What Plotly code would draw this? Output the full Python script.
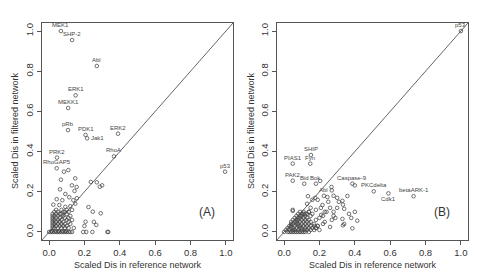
import plotly.graph_objects as go

# ---------------- Panel A data ----------------
A_lab_names = ["MEK1", "SHP-2", "Abl", "ERK1", "MEKK1", "pRb", "PDK1", "Jak1", "ERK2",
               "PRK2", "RhoGAP5", "RhoA", "p53"]
A_lab_x = [0.067, 0.13, 0.27, 0.15, 0.108, 0.107, 0.206, 0.215, 0.39, 0.045, 0.043, 0.367, 0.995]
A_lab_y = [1.0, 0.955, 0.826, 0.68, 0.617, 0.507, 0.483, 0.466, 0.489, 0.37, 0.317, 0.376, 0.30]
A_lab_pos = ["top", "top", "top", "top", "top", "top", "top", "right", "top",
             "top", "top", "top", "top"]

A_x = [0.109, 0.084, 0.148, 0.067, 0.236, 0.27, 0.30, 0.287, 0.129, 0.156, 0.062, 0.144,
       0.092, 0.114, 0.157, 0.043, 0.075, 0.137, 0.024, 0.058, 0.148, 0.092, 0.12, 0.223,
       0.247, 0.292, 0.206, 0.253, 0.267, 0.20, 0.193, 0.21, 0.245, 0.33, 0.335,
       0.0, 0.01, 0.02, 0.03, 0.04, 0.05, 0.06, 0.07, 0.08, 0.09, 0.10, 0.11, 0.12, 0.13,
       0.015, 0.035, 0.055, 0.075, 0.095,
       0.02, 0.03, 0.05, 0.07, 0.09, 0.11, 0.14,
       0.02, 0.04, 0.06, 0.08, 0.10,
       0.02, 0.03, 0.05, 0.07, 0.09, 0.12,
       0.02, 0.04, 0.06, 0.08, 0.11,
       0.02, 0.03, 0.05, 0.07, 0.10, 0.13,
       0.02, 0.04, 0.06, 0.09, 0.11,
       0.02, 0.03, 0.05, 0.08, 0.12,
       0.02, 0.04, 0.06, 0.07, 0.10,
       0.03, 0.05, 0.08, 0.09, 0.11,
       0.04, 0.07, 0.10, 0.13]
A_y = [0.308, 0.30, 0.267, 0.26, 0.249, 0.247, 0.232, 0.225, 0.232, 0.224, 0.212, 0.204,
       0.189, 0.173, 0.168, 0.163, 0.158, 0.158, 0.136, 0.134, 0.141, 0.125, 0.128, 0.124,
       0.101, 0.093, 0.051, 0.05, 0.035, 0.03, 0.0, 0.0, 0.0, 0.0, 0.0,
       0.0, 0.0, 0.0, 0.0, 0.0, 0.0, 0.0, 0.0, 0.0, 0.0, 0.0, 0.0, 0.0, 0.0,
       0.005, 0.005, 0.005, 0.005, 0.005,
       0.02, 0.02, 0.02, 0.02, 0.02, 0.02, 0.02,
       0.03, 0.03, 0.03, 0.03, 0.03,
       0.04, 0.04, 0.04, 0.04, 0.04, 0.04,
       0.05, 0.05, 0.05, 0.05, 0.05,
       0.06, 0.06, 0.06, 0.06, 0.06, 0.06,
       0.07, 0.07, 0.07, 0.07, 0.07,
       0.08, 0.08, 0.08, 0.08, 0.08,
       0.09, 0.09, 0.09, 0.09, 0.09,
       0.10, 0.10, 0.10, 0.10, 0.10,
       0.11, 0.11, 0.11, 0.11]

# ---------------- Panel B data ----------------
B_lab_names = ["p53", "SHIP", "PIAS1", "Fyn", "PAK2", "Bid", "Bok", "Caspase-9", "Abl",
               "PKCdelta", "Cdk1", "betaARK-1"]
B_lab_x = [1.0, 0.152, 0.049, 0.148, 0.049, 0.114, 0.18, 0.386, 0.225, 0.507, 0.59, 0.732]
B_lab_y = [1.0, 0.383, 0.34, 0.34, 0.255, 0.24, 0.24, 0.24, 0.18, 0.202, 0.192, 0.178]
B_lab_pos = ["top", "top", "top", "top", "top", "top", "top", "top", "top",
             "top", "bottom", "top"]

B_x = [0.204, 0.40, 0.268, 0.27, 0.245, 0.28, 0.30, 0.33, 0.358, 0.31, 0.333, 0.34, 0.40,
       0.33, 0.367, 0.38, 0.29, 0.28, 0.27, 0.414, 0.333, 0.34, 0.386, 0.26, 0.22, 0.23,
       0.135, 0.176, 0.217, 0.208, 0.21, 0.049, 0.049, 0.19, 0.16, 0.13, 0.15, 0.18, 0.24,
       0.26, 0.30, 0.20, 0.22, 0.23, 0.25, 0.28, 0.12, 0.14, 0.16, 0.18, 0.17, 0.18, 0.20, 0.19,
       0.0, 0.02, 0.03, 0.04, 0.05, 0.06, 0.07, 0.08, 0.09, 0.10, 0.11, 0.12, 0.14,
       0.01, 0.03, 0.05, 0.06, 0.08, 0.10, 0.12, 0.13, 0.15, 0.17,
       0.02, 0.04, 0.05, 0.07, 0.09, 0.10, 0.12, 0.14, 0.16, 0.18,
       0.03, 0.04, 0.06, 0.08, 0.09, 0.11, 0.13, 0.15, 0.19,
       0.04, 0.05, 0.07, 0.08, 0.10, 0.12, 0.14, 0.17,
       0.04, 0.06, 0.07, 0.09, 0.11, 0.13, 0.15,
       0.05, 0.07, 0.08, 0.10, 0.12, 0.14,
       0.06, 0.08, 0.09, 0.11, 0.13,
       0.07, 0.09, 0.10, 0.12, 0.15,
       0.08, 0.10, 0.11, 0.13,
       0.09, 0.11, 0.14]
B_y = [0.254, 0.232, 0.224, 0.207, 0.174, 0.18, 0.17, 0.155, 0.179, 0.15, 0.136, 0.115, 0.10,
       0.065, 0.09, 0.07, 0.07, 0.08, 0.06, 0.056, 0.033, 0.04, 0.018, 0.025, 0.04, 0.05,
       0.178, 0.17, 0.134, 0.12, 0.085, 0.11, 0.105, 0.16, 0.16, 0.14, 0.12, 0.11, 0.10,
       0.12, 0.12, 0.07, 0.08, 0.10, 0.15, 0.10, 0.09, 0.10, 0.09, 0.06, 0.03, 0.02, 0.01, 0.03,
       0.0, 0.0, 0.0, 0.0, 0.0, 0.0, 0.0, 0.0, 0.0, 0.0, 0.0, 0.0, 0.0,
       0.01, 0.01, 0.01, 0.01, 0.01, 0.01, 0.01, 0.01, 0.01, 0.01,
       0.02, 0.02, 0.02, 0.02, 0.02, 0.02, 0.02, 0.02, 0.02, 0.02,
       0.03, 0.03, 0.03, 0.03, 0.03, 0.03, 0.03, 0.03, 0.03,
       0.04, 0.04, 0.04, 0.04, 0.04, 0.04, 0.04, 0.04,
       0.05, 0.05, 0.05, 0.05, 0.05, 0.05, 0.05,
       0.06, 0.06, 0.06, 0.06, 0.06, 0.06,
       0.07, 0.07, 0.07, 0.07, 0.07,
       0.08, 0.08, 0.08, 0.08, 0.08,
       0.09, 0.09, 0.09, 0.09,
       0.10, 0.10, 0.10]

diag = [-0.1, 1.1]
tick_vals = [0.0, 0.2, 0.4, 0.6, 0.8, 1.0]
tick_text = ["0.0", "0.2", "0.4", "0.6", "0.8", "1.0"]
panel_tags = ["(A)", "(B)"]
x_title = "Scaled Dis in reference network"
y_title = "Scaled Dis in filtered network"

INK = "#444444"
FONT = "Liberation Sans, Arial, Helvetica, sans-serif"

fig = go.Figure()
mk = dict(symbol="circle-open", size=3.6, color=INK, line=dict(width=0.75, color=INK))

for xs, ys, lx, ly, xa, ya in [(A_x, A_y, A_lab_x, A_lab_y, "x", "y"),
                               (B_x, B_y, B_lab_x, B_lab_y, "x2", "y2")]:
    fig.add_trace(go.Scatter(x=diag, y=diag, mode="lines", xaxis=xa, yaxis=ya,
                             line=dict(color="#555555", width=0.9), showlegend=False,
                             hoverinfo="skip"))
    fig.add_trace(go.Scatter(x=xs + lx, y=ys + ly, mode="markers", xaxis=xa, yaxis=ya,
                             marker=mk, showlegend=False, cliponaxis=False))

annots = []
for names, lx, ly, pos, xr, yr in [(A_lab_names, A_lab_x, A_lab_y, A_lab_pos, "x", "y"),
                                    (B_lab_names, B_lab_x, B_lab_y, B_lab_pos, "x2", "y2")]:
    for n, x, y, p in zip(names, lx, ly, pos):
        a = dict(x=x, y=y, xref=xr, yref=yr, text=n, showarrow=False,
                 font=dict(size=6, color="#444444", family=FONT))
        if p == "top":
            a.update(yshift=6)
        elif p == "bottom":
            a.update(yshift=-6)
        elif p == "right":
            a.update(xanchor="left", xshift=2)
        annots.append(a)

for tag, xr, yr in [(panel_tags[0], "x", "y"), (panel_tags[1], "x2", "y2")]:
    annots.append(dict(x=0.895, y=0.10, xref=xr, yref=yr, text=tag, showarrow=False,
                       font=dict(size=12, color="#333333", family=FONT)))

# axis titles as paper annotations (R-style placement)
tfont = dict(size=9, color="#333333", family=FONT)
for xc in [(42 + 233) / 2 / 481, (277 + 468) / 2 / 481]:
    annots.append(dict(x=xc, y=1 - 265 / 274, xref="paper", yref="paper", text=x_title,
                       showarrow=False, font=tfont, xanchor="center", yanchor="middle"))
for xc in [15 / 481, 251 / 481]:
    annots.append(dict(x=xc, y=1 - 131 / 274, xref="paper", yref="paper", text=y_title,
                       showarrow=False, font=tfont, textangle=-90,
                       xanchor="center", yanchor="middle"))

axis_common = dict(range=[-0.04, 1.04], showline=True, mirror=True, linecolor="#555555",
                   linewidth=1, ticks="outside", ticklen=4, tickcolor="#555555",
                   showgrid=False, zeroline=False, tickvals=tick_vals, ticktext=tick_text,
                   automargin=False,
                   tickfont=dict(size=9.5, color="#333333", family=FONT))

fig.update_layout(
    width=481, height=274, margin=dict(l=0, r=0, t=0, b=0),
    paper_bgcolor="white", plot_bgcolor="white",
    xaxis=dict(domain=[42/481, 233/481], anchor="y", **axis_common),
    yaxis=dict(domain=[1-240/274, 1-23/274], anchor="x", tickangle=-90, **axis_common),
    xaxis2=dict(domain=[277/481, 468/481], anchor="y2", **axis_common),
    yaxis2=dict(domain=[1-240/274, 1-23/274], anchor="x2", tickangle=-90, **axis_common),
    annotations=annots,
    font=dict(family=FONT),
)

fig.write_html("out.html")
